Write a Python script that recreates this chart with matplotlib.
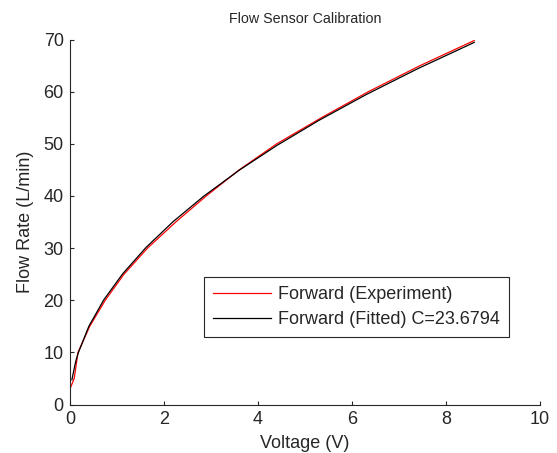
import matplotlib
matplotlib.use('Agg')
import matplotlib.pyplot as plt

# experiment: voltage read at each set flow rate
volt_exp = [0.0, 0.09, 0.17, 0.42, 0.75, 1.15, 1.65, 2.25, 2.9, 3.6, 4.4, 5.35, 6.35, 7.45, 8.6]
flow_exp = [3.0, 5.0, 10.0, 15.0, 20.0, 25.0, 30.0, 35.0, 40.0, 45.0, 50.0, 55.0, 60.0, 65.0, 69.8]

# fitted curve, C = 23.6794
volt_fit = [0.04, 0.12, 0.17, 0.40, 0.72, 1.12, 1.62, 2.20, 2.85, 3.60, 4.40, 5.30, 6.30, 7.40, 8.6]
flow_fit = [4.74, 8.20, 9.76, 14.98, 20.09, 25.06, 30.14, 35.12, 39.98, 44.93, 49.67, 54.51, 59.43, 64.41, 69.44]

x_ticks = [0, 2, 4, 6, 8, 10]
y_ticks = [0, 10, 20, 30, 40, 50, 60, 70]

plt.rcParams['font.family'] = ['Liberation Sans', 'DejaVu Sans']
txt = '#262626'

fig = plt.figure(figsize=(5.57, 4.53), dpi=100)
ax = fig.add_axes([70 / 557, 1 - 404.5 / 453, 470 / 557, 365 / 453])

ax.plot(volt_exp, flow_exp, color='red', lw=0.9, label='Forward (Experiment)')
ax.plot(volt_fit, flow_fit, color='black', lw=0.9, label='Forward (Fitted) C=23.6794')

ax.set_xlim(0, 10)
ax.set_ylim(0, 70)
ax.set_xticks(x_ticks)
ax.set_yticks(y_ticks)
ax.tick_params(direction='in', length=3, width=0.8, labelsize=13, colors=txt, pad=4.5)
ax.spines['top'].set_visible(False)
ax.spines['right'].set_visible(False)
for s in ['left', 'bottom']:
    ax.spines[s].set_color(txt)
    ax.spines[s].set_linewidth(0.8)

ax.set_xlabel('Voltage (V)', fontsize=13, labelpad=5, color=txt)
ax.set_ylabel('Flow Rate (L/min)', fontsize=13, labelpad=7, color=txt)
ax.set_title('Flow Sensor Calibration', fontsize=10.3, pad=12, color=txt)

leg = ax.legend(loc='lower right', bbox_to_anchor=(509 / 557, 1 - 337 / 453),
                bbox_transform=fig.transFigure, borderaxespad=0,
                fancybox=False, edgecolor=txt, framealpha=1, fontsize=13,
                handlelength=3.2, handletextpad=0.42, borderpad=0.5, labelspacing=0.45)
for t in leg.get_texts():
    t.set_color(txt)
leg.get_frame().set_linewidth(0.8)

fig.savefig('out.png', dpi=100)
